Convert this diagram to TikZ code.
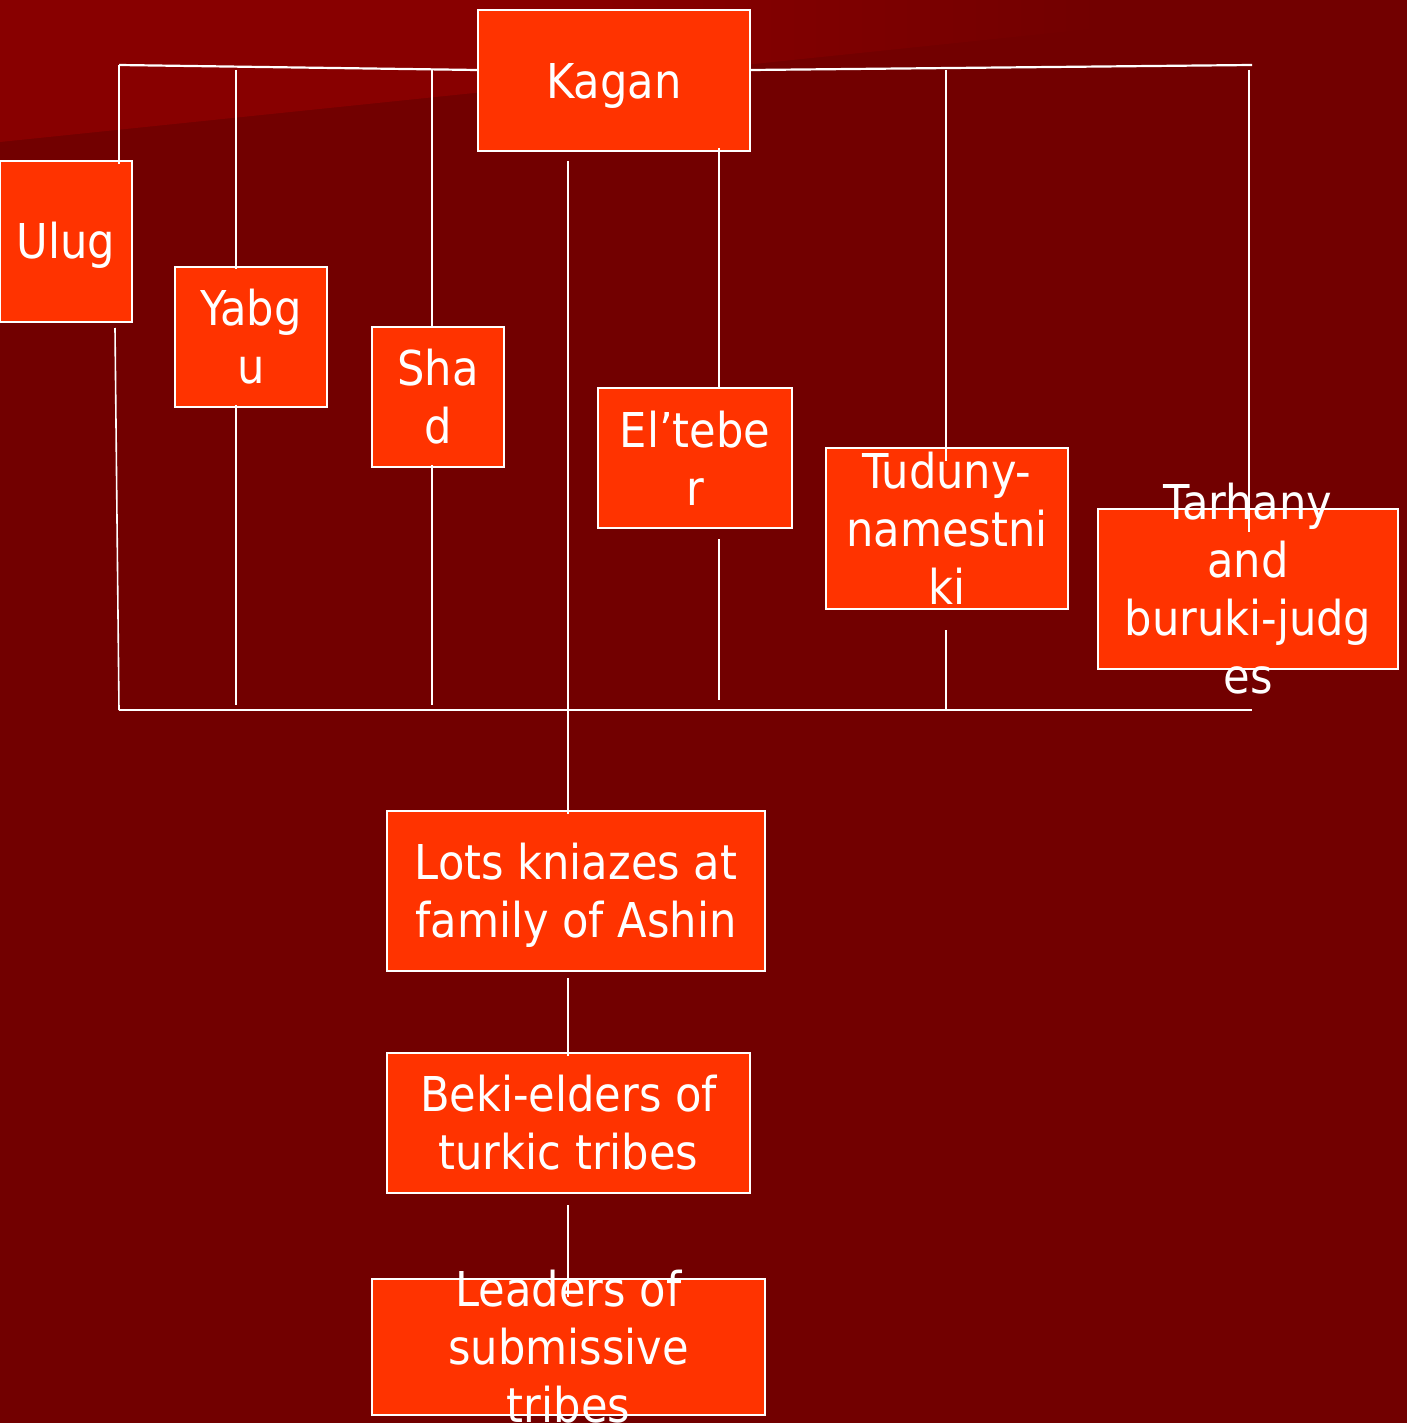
\documentclass[tikz,border=0pt]{standalone}
\usepackage{fontspec}
\setmainfont{DejaVu Sans Condensed}
\definecolor{bgred}{HTML}{720000}
\definecolor{wedgered}{HTML}{880000}
\definecolor{boxred}{HTML}{FF3300}
\tikzset{
  box/.style={draw=white, line width=2pt, fill=boxred, inner sep=0pt},
  lbl/.style={text=white, align=center, inner sep=0pt,
    font=\fontsize{48}{58}\selectfont},
  wire/.style={draw=white, line width=1.6pt},
  buswire/.style={draw=white, line width=2.2pt},
}
\begin{document}
\begin{tikzpicture}[x=1pt, y=-1pt]
% background and the lighter band in the upper left
\fill[bgred] (0,0) rectangle (1407,1423);
\useasboundingbox (0,0) rectangle (1407,1423);
\fill[wedgered] (0,0) -- (600,0) -- (600,80) -- (0,142) -- cycle;
\shade[left color=wedgered, right color=bgred]
  (600,0) -- (1100,0) -- (1100,28) -- (600,80) -- cycle;

% boxes
\node[box, minimum width=272pt, minimum height=141pt] (kagan) at (614,80.5) {};
\node[box, minimum width=132pt, minimum height=161pt] (ulug)  at (66,241.5) {};
\node[box, minimum width=152pt, minimum height=140pt] (yabgu) at (251,337) {};
\node[box, minimum width=132pt, minimum height=140pt] (shad)  at (438,397) {};
\node[box, minimum width=194pt, minimum height=140pt] (eltb)  at (695,458) {};
\node[box, minimum width=242pt, minimum height=161pt] (tud)   at (947,528.5) {};
\node[box, minimum width=300pt, minimum height=160pt] (tar)   at (1248,589) {};
\node[box, minimum width=378pt, minimum height=160pt] (lots)  at (576,891) {};
\node[box, minimum width=363pt, minimum height=140pt] (beki)  at (568.5,1123) {};
\node[box, minimum width=393pt, minimum height=136pt] (lead)  at (568.5,1347) {};

% labels
\node[lbl, yshift=-5pt] (kaganT) at (kagan) {Kagan};
\node[lbl, yshift=-4pt] (ulugT)  at (ulug)  {Ulug};
\node[lbl] (yabguT) at (yabgu) {Yabg\\u};
\node[lbl] (shadT)  at (shad)  {Sha\\d};
\node[lbl] (eltbT)  at (eltb)  {El’tebe\\r};
\node[lbl] (tudT)   at (tud)   {Tuduny-\\namestni\\ki};
\node[lbl] (tarT)   at (tar)   {Tarhany\\and\\buruki-judg\\es};
\node[lbl, yshift=-4pt] (lotsT) at (lots) {Lots kniazes at\\ family of Ashin};
\node[lbl] (bekiT)  at (beki)  {Beki-elders of\\ turkic tribes};
\node[lbl] (leadT)  at (lead)  {Leaders of\\submissive\\tribes};

% bus corners
\coordinate (busL) at (119,65);
\coordinate (busR) at (1252,65);
\coordinate (botL) at (119,710);
\coordinate (botR) at (1252,710);

% upper bus from the Kagan
\draw[buswire] (busL) -- (kagan.west |- 0,70);
\draw[buswire] (kagan.east |- 0,70) -- (busR);

% drops from the upper bus
\draw[wire] (busL) -- ([yshift=-4pt]ulug.north -| busL);
\draw[wire] (236,70) -- ([yshift=-3pt]yabgu.north -| 236,0);
\draw[wire] (432,70) -- (shad.north -| 432,0);
\draw[wire] ([yshift=4pt]kagan.south -| 719,0) -- (eltb.north -| 719,0);
\draw[wire] (946,70) -- ([yshift=-14pt]tud.north -| 946,0);
\draw[wire] (1249,70) -- ([yshift=-24pt]tar.north -| 1249,0);

% lower bus
\draw[wire] (botL) -- (botR);
\draw[wire] ([yshift=-5pt]ulug.south -| 115,0) -- (botL);
\draw[wire] ([yshift=3pt]yabgu.south -| 236,0) -- (236,705);
\draw[wire] ([yshift=3pt]shad.south -| 432,0) -- (432,705);
\draw[wire] ([yshift=-10pt]eltb.south -| 719,0) -- (719,700);
\draw[wire] ([yshift=-20pt]tud.south -| 946,0) -- (946,710);

% central chain
\draw[wire] ([yshift=-9pt]kagan.south -| 568,0) -- ([yshift=-4pt]lots.north -| 568,0);
\draw[wire] ([yshift=-6pt]lots.south -| 568,0) -- ([yshift=-4pt]beki.north -| 568,0);
\draw[wire] ([yshift=-11pt]beki.south -| 568,0) -- ([yshift=-19pt]lead.north -| 568,0);
\end{tikzpicture}
\end{document}
